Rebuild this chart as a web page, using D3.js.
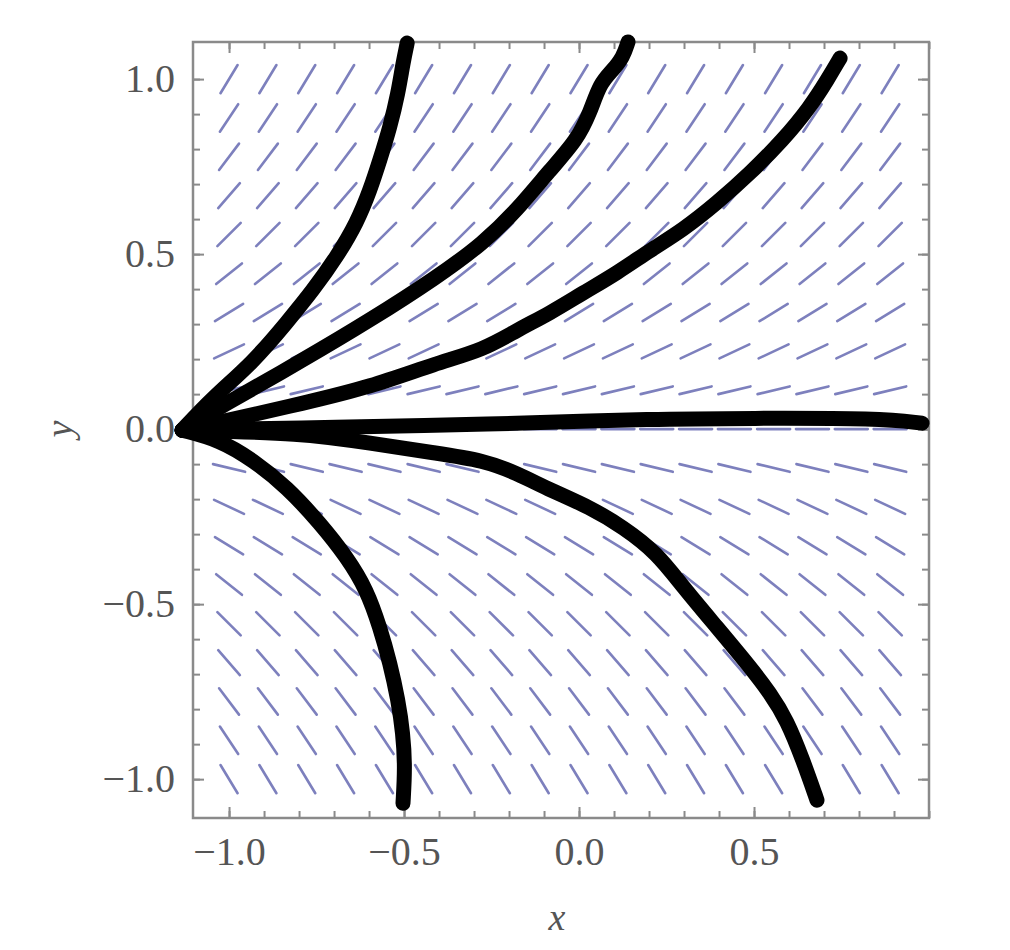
<!DOCTYPE html>
<html>
<head>
<meta charset="utf-8">
<script src="https://cdn.jsdelivr.net/npm/d3@7"></script>
<style>
  html, body { margin: 0; padding: 0; background: #fff; }
  svg { display: block; }
</style>
</head>
<body>
<svg id="chart" width="1010" height="950"></svg>
<script>
// ---------- data ----------
const gridX = [-1.0, -0.889, -0.778, -0.667, -0.556, -0.444, -0.333, -0.222, -0.111,
               0.0, 0.111, 0.222, 0.333, 0.444, 0.556, 0.667, 0.778, 0.889];
const gridY = [-1.0, -0.889, -0.778, -0.667, -0.556, -0.444, -0.333, -0.222, -0.111, 0.0,
               0.111, 0.222, 0.333, 0.444, 0.556, 0.667, 0.778, 0.889, 1.0];
// slope dy/dx of the field in each row (same order as gridY)
const rowSlopes = [-1.65, -1.5, -1.32, -1.15, -1.0, -0.8, -0.61, -0.47, -0.24, 0,
                   0.24, 0.47, 0.61, 0.8, 1.0, 1.15, 1.32, 1.5, 1.65];

const xTicks = [-1.0, -0.5, 0.0, 0.5];
const yTicks = [-1.0, -0.5, 0.0, 0.5, 1.0];
const minorTicks = [-1.0, -0.9, -0.8, -0.7, -0.6, -0.5, -0.4, -0.3, -0.2, -0.1, 0.0,
                    0.1, 0.2, 0.3, 0.4, 0.5, 0.6, 0.7, 0.8, 0.9, 1.0];

// hand-drawn solution curves, [x, y] in data units
const curveA = [[-1.134, -0.003], [-1.046, 0.091], [-0.931, 0.191], [-0.834, 0.306], [-0.760, 0.397],
  [-0.691, 0.494], [-0.634, 0.591], [-0.597, 0.683], [-0.569, 0.769], [-0.540, 0.863],
  [-0.517, 0.960], [-0.503, 1.046], [-0.491, 1.103]];
const curveB = [[-1.134, -0.003], [-1.026, 0.063], [-0.789, 0.197], [-0.597, 0.311], [-0.406, 0.434],
  [-0.274, 0.531], [-0.177, 0.626], [-0.083, 0.740], [-0.006, 0.826], [0.031, 0.903],
  [0.060, 0.989], [0.097, 1.026], [0.126, 1.063], [0.140, 1.106]];
const curveC = [[-1.134, -0.003], [-0.997, 0.026], [-0.789, 0.074], [-0.597, 0.120], [-0.406, 0.189],
  [-0.274, 0.226], [-0.177, 0.283], [-0.083, 0.331], [0.011, 0.389], [0.109, 0.446],
  [0.203, 0.511], [0.297, 0.569], [0.394, 0.646], [0.489, 0.731], [0.583, 0.826],
  [0.660, 0.920], [0.709, 0.997], [0.746, 1.060]];
const curveD = [[-1.134, -0.003], [-0.797, 0.003], [-0.429, 0.011], [-0.143, 0.017], [0.203, 0.029],
  [0.489, 0.031], [0.860, 0.031], [0.980, 0.017]];
const curveE = [[-1.134, -0.003], [-0.789, -0.011], [-0.597, -0.040], [-0.406, -0.069], [-0.274, -0.089],
  [-0.177, -0.126], [-0.083, -0.174], [0.031, -0.223], [0.126, -0.280], [0.223, -0.354],
  [0.297, -0.451], [0.394, -0.566], [0.489, -0.680], [0.546, -0.754], [0.594, -0.831],
  [0.640, -0.946], [0.680, -1.060]];
const curveF = [[-1.134, -0.003], [-1.026, -0.031], [-0.931, -0.089], [-0.834, -0.166], [-0.740, -0.269],
  [-0.663, -0.366], [-0.606, -0.460], [-0.569, -0.566], [-0.540, -0.669], [-0.517, -0.774],
  [-0.503, -0.869], [-0.497, -0.966], [-0.503, -1.069]];
const curves = [curveA, curveB, curveC, curveD, curveE, curveF];

// ---------- layout ----------
const svg = d3.select("#chart");
const pL = 193, pR = 929, pT = 42, pB = 818;
const x = d3.scaleLinear().domain([-1.103, 1.0]).range([pL, pR]);
const y = d3.scaleLinear().domain([-1.111, 1.106]).range([pB, pT]);

svg.append("rect").attr("width", 1010).attr("height", 950).attr("fill", "#fff");

// ---------- slope field ----------
const segLen = 16.5;
const field = [];
gridY.forEach((gy, j) => {
  gridX.forEach(gx => field.push({gx, gy, s: rowSlopes[j]}));
});
svg.append("g").selectAll("line").data(field).join("line")
  .attr("x1", d => x(d.gx) - segLen * Math.cos(Math.atan(d.s)))
  .attr("x2", d => x(d.gx) + segLen * Math.cos(Math.atan(d.s)))
  .attr("y1", d => y(d.gy) + segLen * Math.sin(Math.atan(d.s)))
  .attr("y2", d => y(d.gy) - segLen * Math.sin(Math.atan(d.s)))
  .attr("stroke", "#5c60ad")
  .attr("stroke-opacity", 0.8)
  .attr("stroke-width", 2.6)
  .attr("stroke-linecap", "round");

// ---------- frame & axes ----------
const axisColor = "#8a8a8a";
const fontFam = "'Liberation Serif', 'Times New Roman', serif";
const fmt = d3.format(".1f");

function styleAxis(g) {
  g.select(".domain").remove();
  g.selectAll(".tick line").attr("stroke", axisColor).attr("stroke-width", 2);
  g.selectAll(".tick text").attr("fill", "#555").attr("font-family", fontFam).attr("font-size", 40);
}

// minor ticks, all sides
svg.append("g").attr("transform", `translate(0,${pB})`)
  .call(d3.axisBottom(x).tickValues(minorTicks).tickFormat("").tickSizeInner(-7).tickSizeOuter(0)).call(styleAxis);
svg.append("g").attr("transform", `translate(0,${pT})`)
  .call(d3.axisTop(x).tickValues(minorTicks).tickFormat("").tickSizeInner(-7).tickSizeOuter(0)).call(styleAxis);
svg.append("g").attr("transform", `translate(${pL},0)`)
  .call(d3.axisLeft(y).tickValues(minorTicks).tickFormat("").tickSizeInner(-7).tickSizeOuter(0)).call(styleAxis);
svg.append("g").attr("transform", `translate(${pR},0)`)
  .call(d3.axisRight(y).tickValues(minorTicks).tickFormat("").tickSizeInner(-7).tickSizeOuter(0)).call(styleAxis);

// major ticks with labels
svg.append("g").attr("transform", `translate(0,${pB})`)
  .call(d3.axisBottom(x).tickValues(xTicks).tickFormat(fmt).tickSizeInner(-11).tickSizeOuter(0).tickPadding(19)).call(styleAxis);
svg.append("g").attr("transform", `translate(${pL},0)`)
  .call(d3.axisLeft(y).tickValues(yTicks).tickFormat(fmt).tickSizeInner(-11).tickSizeOuter(0).tickPadding(18)).call(styleAxis);
svg.append("g").attr("transform", `translate(0,${pT})`)
  .call(d3.axisTop(x).tickValues(xTicks).tickFormat("").tickSizeInner(-11).tickSizeOuter(0)).call(styleAxis);
svg.append("g").attr("transform", `translate(${pR},0)`)
  .call(d3.axisRight(y).tickValues(yTicks).tickFormat("").tickSizeInner(-11).tickSizeOuter(0)).call(styleAxis);

svg.append("rect")
  .attr("x", pL).attr("y", pT).attr("width", pR - pL).attr("height", pB - pT)
  .attr("fill", "none").attr("stroke", axisColor).attr("stroke-width", 2.5);

// axis titles
svg.append("text").attr("x", (pL + pR) / 2 - 4).attr("y", 930)
  .attr("text-anchor", "middle").attr("font-family", fontFam).attr("font-style", "italic")
  .attr("font-size", 38).attr("fill", "#555").text("x");
svg.append("text").attr("transform", `translate(72,${y(0)}) rotate(-90)`)
  .attr("text-anchor", "middle").attr("font-family", fontFam).attr("font-style", "italic")
  .attr("font-size", 38).attr("fill", "#555").text("y");

// ---------- hand-drawn curves ----------
const line = d3.line().x(d => x(d[0])).y(d => y(d[1])).curve(d3.curveBasis);
svg.append("g").selectAll("path").data(curves).join("path")
  .attr("d", line)
  .attr("fill", "none")
  .attr("stroke", "#000")
  .attr("stroke-width", 15)
  .attr("stroke-linecap", "round")
  .attr("stroke-linejoin", "round");
</script>
</body>
</html>
